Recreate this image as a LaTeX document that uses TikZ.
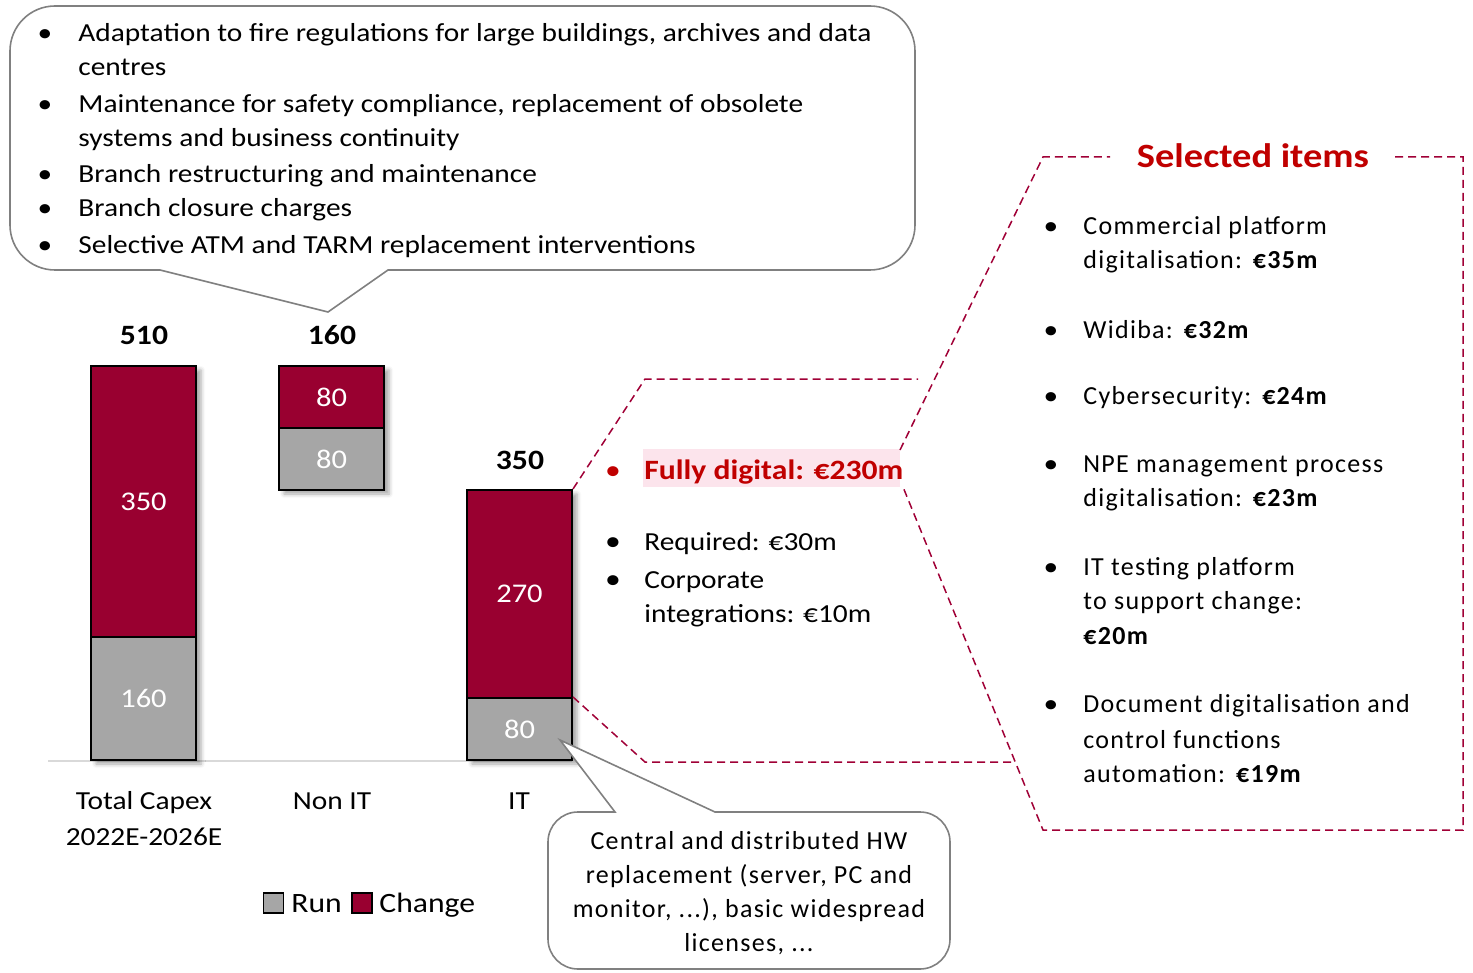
\documentclass[tikz,border=0pt]{standalone}
\usepackage{fontspec}
\setmainfont{Carlito}[FakeStretch=1.13]
\newfontfamily\spaced[LetterSpace=5]{Carlito}
\usetikzlibrary{shadows.blur}
\definecolor{barred}{HTML}{990030}
\definecolor{bargray}{HTML}{A6A6A6}
\definecolor{redtxt}{HTML}{C00000}
\definecolor{dashred}{HTML}{A00036}
\definecolor{hilite}{HTML}{FCE4EC}
\definecolor{bubblegray}{HTML}{808080}
\definecolor{axisgray}{HTML}{D9D9D9}
\begin{document}
\begin{tikzpicture}[x=0.5pt,y=-0.5pt,
  txt/.style={anchor=base west, inner sep=0pt, font=\fontsize{13}{16}\selectfont},
  mid/.style={anchor=base west, inner sep=0pt, font=\fontsize{13}{16}\selectfont},
  rtxt/.style={anchor=base west, inner sep=0pt, font=\spaced\fontsize{13}{16}\selectfont},
  bul/.style={anchor=base, inner sep=0pt, font=\fontsize{13}{16}\selectfont},
  ctxt/.style={anchor=base, inner sep=0pt, font=\fontsize{13}{16}\selectfont},
  tot/.style={anchor=base, inner sep=0pt, font=\bfseries\fontsize{14}{17}\selectfont},
  bar/.style={draw=black, line width=1pt, minimum width=52.5pt, inner sep=0pt, text=white, font=\fontsize{13.5}{17}\selectfont},
  chg/.style={bar, fill=barred},
  run/.style={bar, fill=bargray},
  bubble/.style={draw=bubblegray, line width=0.8pt, fill=white},
  dline/.style={draw=dashred, dash pattern=on 4pt off 2.5pt, line width=0.75pt},
  shadowbox/.style={blur shadow={shadow xshift=2.5pt, shadow yshift=-2pt, shadow opacity=35, shadow blur radius=2pt}},
  legsq/.style={draw=black, line width=0.6pt, minimum width=10pt, minimum height=10pt, inner sep=0pt},
  btxt/.style={anchor=base, inner sep=0pt, font=\spaced\fontsize{13}{16}\selectfont}]
\useasboundingbox (0,0) rectangle (1473,973);

% top callout
\path[bubble] (388,270) -- (870,270) arc[start angle=-90,end angle=0,radius=22.5pt] -- (915,51)
  arc[start angle=0,end angle=90,radius=22.5pt] -- (55,6)
  arc[start angle=90,end angle=180,radius=22.5pt] -- (10,225)
  arc[start angle=180,end angle=270,radius=22.5pt] -- (160,270) -- (328,312) -- cycle;
\node[bul] (tb1) at (45,42) {•};
\node[txt] (t1a) at (78,42) {Adaptation to fire regulations for large buildings, archives and data};
\node[txt] (t1b) at (78,76) {centres};
\node[bul] (tb2) at (45,113) {•};
\node[txt] (t2a) at (78,113) {Maintenance for safety compliance, replacement of obsolete};
\node[txt] (t2b) at (78,147) {systems and business continuity};
\node[bul] (tb3) at (45,183) {•};
\node[txt] (t3) at (78,183) {Branch restructuring and maintenance};
\node[bul] (tb4) at (45,217) {•};
\node[txt] (t4) at (78,217) {Branch closure charges};
\node[bul] (tb5) at (45,254) {•};
\node[txt] (t5) at (78,254) {Selective ATM and TARM replacement interventions};

% axis
\draw[axisgray, line width=1pt] (48,761) -- (572,761);

% shadows
\path[shadowbox] (91,366) rectangle (196,760);
\path[shadowbox] (279,366) rectangle (384,490);
\path[shadowbox] (467,490) rectangle (572,760);

% bars
\node[chg, minimum height=135.5pt] (c1) at (143.5,501.5) {350};
\node[run, minimum height=61.5pt] (r1) at (143.5,698.5) {160};
\node[chg, minimum height=31pt] (c2) at (331.5,397) {80};
\node[run, minimum height=31pt] (r2) at (331.5,459) {80};
\node[chg, minimum height=104pt] (c3) at (519.5,594) {270};
\node[run, minimum height=31pt] (r3) at (519.5,729) {80};

% totals
\node[tot] (s1) at (144,344) {510};
\node[tot] (s2) at (332,344) {160};
\node[tot] (s3) at (520,469) {350};

% categories
\node[ctxt] (k1a) at (144,809) {Total Capex};
\node[ctxt] (k1b) at (144,845) {2022E-2026E};
\node[ctxt] (k2) at (332,809) {Non IT};
\node[ctxt] (k3) at (519,809) {IT};

% legend
\node[legsq, fill=bargray] (lg1) at (273.5,903) {};
\node[anchor=base west, inner sep=0pt, font=\fontsize{14}{17}\selectfont] (lt1) at (291,912) {Run};
\node[legsq, fill=barred] (lg2) at (362,903) {};
\node[anchor=base west, inner sep=0pt, font=\fontsize{14}{17}\selectfont] (lt2) at (379,912) {Change};

% middle panel
\fill[hilite] (643,449) rectangle (900,487);
\coordinate (hne) at (900,450);
\coordinate (hse) at (903,487);
\node[bul, text=redtxt, font=\fontsize{14}{17}\selectfont] (mb1) at (613,479) {•};
\node[mid, text=redtxt, font=\bfseries\fontsize{14}{17}\selectfont] (m1) at (644,479) {Fully digital: €230m};
\node[bul, font=\fontsize{14}{17}\selectfont] (mb2) at (613,550) {•};
\node[mid] (m2) at (644,550) {Required: €30m};
\node[bul, font=\fontsize{14}{17}\selectfont] (mb3) at (613,588) {•};
\node[mid] (m3a) at (644,588) {Corporate};
\node[mid] (m3b) at (644,622) {integrations: €10m};

% dashed connectors
\coordinate (p1) at (645,379);
\coordinate (p2) at (918,379);
\coordinate (q1) at (645,762);
\coordinate (q2) at (1015,762);
\coordinate (s0) at (1043,157);
\coordinate (sA) at (1110,157);
\coordinate (sB) at (1395,157);
\coordinate (sC) at (1463,157);
\coordinate (sD) at (1463,830);
\coordinate (sE) at (1043,830);
\path[dline] (c3.north east) -- (p1) -- (p2);
\path[dline] (r3.north east) -- (q1) -- (q2);
\path[dline] (hne) -- (s0) -- (sA);
\path[dline] (sB) -- (sC) -- (sD) -- (sE) -- (hse);

% selected items
\node[anchor=base, inner sep=0pt, text=redtxt, font=\bfseries\fontsize{17}{20}\selectfont] (sel) at (1253,168) {Selected items};
\node[bul] (rb1) at (1051,235) {•};
\node[rtxt] (r1a) at (1083,235) {Commercial platform};
\node[rtxt] (r1b) at (1083,269) {digitalisation: \textbf{€35m}};
\node[bul] (rb2) at (1051,338) {•};
\node[rtxt] (r2) at (1083,338) {Widiba: \textbf{€32m}};
\node[bul] (rb3) at (1051,404) {•};
\node[rtxt] (r3t) at (1083,404) {Cybersecurity: \textbf{€24m}};
\node[bul] (rb4) at (1051,472) {•};
\node[rtxt] (r4a) at (1083,472) {NPE management process};
\node[rtxt] (r4b) at (1083,506) {digitalisation: \textbf{€23m}};
\node[bul] (rb5) at (1051,575) {•};
\node[rtxt] (r5a) at (1083,575) {IT testing platform};
\node[rtxt] (r5b) at (1083,609) {to support change:};
\node[rtxt] (r5c) at (1083,644) {\textbf{€20m}};
\node[bul] (rb6) at (1051,712) {•};
\node[rtxt] (r6a) at (1083,712) {Document digitalisation and};
\node[rtxt] (r6b) at (1083,748) {control functions};
\node[rtxt] (r6c) at (1083,782) {automation: \textbf{€19m}};

% bottom callout
\path[bubble] (615,812) -- (560,740) -- (715,812) -- (920,812)
  arc[start angle=90,end angle=0,radius=15pt] -- (950,939)
  arc[start angle=0,end angle=-90,radius=15pt] -- (578,969)
  arc[start angle=-90,end angle=-180,radius=15pt] -- (548,842)
  arc[start angle=180,end angle=90,radius=15pt] -- cycle;
\node[btxt] (b1) at (749,849) {Central and distributed HW};
\node[btxt] (b2) at (749,883) {replacement (server, PC and};
\node[btxt] (b3) at (749,917) {monitor, ...), basic widespread};
\node[btxt] (b4) at (749,951) {licenses, ...};
\end{tikzpicture}
\end{document}
